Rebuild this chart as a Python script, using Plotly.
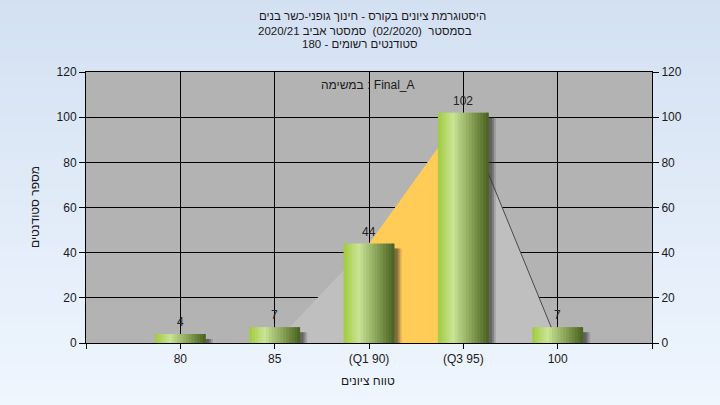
import plotly.graph_objects as go

# ---------------- data ----------------
categories = ["80", "85", "(Q1 90)", "(Q3 95)", "100"]
counts = [4, 7, 44, 102, 7]
curve_values = [0, 0, 44, 102, 0]
q1_pos, q3_pos = 3, 4
y_ticks = [0, 20, 40, 60, 80, 100, 120]

title_lines = [
    "היסטוגרמת ציונים בקורס - חינוך גופני-כשר בנים",
    "בסמסטר  (02/2020)  סמסטר אביב 2020/21",
    "סטודנטים רשומים - 180",
]
task_label = "במשימה : Final_A"
x_title = "טווח ציונים"
y_title = "מספר סטודנטים"

positions = list(range(1, len(categories) + 1))
FONT = "Arial, 'Liberation Sans', 'DejaVu Sans', sans-serif"

fig = go.Figure()

# gray distribution area (primary subplot, drawn first)
fig.add_trace(go.Scatter(x=positions, y=curve_values, mode="lines", fill="tozeroy",
                         fillcolor="#BFBFBF", line=dict(width=0, color="#BFBFBF"),
                         hoverinfo="skip", showlegend=False))
# interquartile (Q1-Q3) orange area
i1, i3 = positions.index(q1_pos), positions.index(q3_pos)
fig.add_trace(go.Scatter(x=positions[i1:i3 + 1], y=curve_values[i1:i3 + 1], mode="lines",
                         fill="tozeroy", fillcolor="#FFCC58", line=dict(width=0, color="#FFCC58"),
                         hoverinfo="skip", showlegend=False))
# dark outline on descending side
fig.add_trace(go.Scatter(x=positions[i3:], y=curve_values[i3:], mode="lines",
                         line=dict(width=1, color="#4A4A4A"), hoverinfo="skip", showlegend=False))

# bar shadows (overlay subplot, drawn above the areas)
BW = 0.54
for dx, alpha in [(0.075, 0.18), (0.055, 0.3), (0.035, 0.35)]:
    fig.add_trace(go.Bar(x=positions, y=counts, base=-2.2, width=BW, offset=-BW / 2 + dx, yaxis="y2",
                         marker=dict(color=f"rgba(50,50,50,{alpha})", line=dict(width=0)),
                         hoverinfo="skip", showlegend=False))

# gradient bars made of strips
stops = [(0.0, (160, 202, 62)), (0.3, (202, 228, 150)), (0.6, (146, 172, 96)), (1.0, (72, 96, 30))]


def grad(t):
    for (t0, c0), (t1, c1) in zip(stops[:-1], stops[1:]):
        if t <= t1:
            f = (t - t0) / (t1 - t0)
            return "rgb(%d,%d,%d)" % tuple(round(a + (b - a) * f) for a, b in zip(c0, c1))
    return "rgb(%d,%d,%d)" % stops[-1][1]


N = 18
s = BW / N
for i in range(N):
    off = -BW / 2 + i * s
    w = min(1.6 * s, BW / 2 - off)
    fig.add_trace(go.Bar(x=positions, y=counts, width=w, offset=off, yaxis="y2",
                         marker=dict(color=grad((i + 0.5) / N), line=dict(width=0)),
                         hoverinfo="skip", showlegend=False))

# background gradient bands + plot area
shapes = []
nb = 45
top_c, bot_c = (211, 224, 242), (239, 246, 254)
y_top, y_bot = 1.28, -0.24
for k in range(nb):
    f = (k + 0.5) / nb
    c = tuple(round(a + (b - a) * f) for a, b in zip(top_c, bot_c))
    ya = y_top - (y_top - y_bot) * k / nb
    yb = y_top - (y_top - y_bot) * (k + 1) / nb
    shapes.append(dict(type="rect", xref="paper", yref="paper", x0=-0.2, x1=1.2, y0=yb - 0.002, y1=ya + 0.002,
                       fillcolor="rgb(%d,%d,%d)" % c, line=dict(width=0), layer="below"))
shapes.append(dict(type="rect", xref="x domain", yref="y domain", x0=0, x1=1, y0=0, y1=1,
                   fillcolor="#B3B3B3", line=dict(width=0), layer="below"))

annotations = []
# value labels above bars
for xv, v in zip(positions, counts):
    annotations.append(dict(text=str(v), x=xv, y=v, xref="x", yref="y2", showarrow=False,
                            xanchor="center", yanchor="middle", yshift=12,
                            font=dict(size=12, color="#222222", family=FONT)))
for txt, xc, yc in zip(title_lines, [0.507, 0.493, 0.484], [1.206, 1.152, 1.104]):
    annotations.append(dict(text=txt, xref="paper", yref="paper", x=xc, y=yc, showarrow=False,
                            xanchor="center", yanchor="middle", font=dict(size=11.5, color="#1A1A1A", family=FONT)))
annotations.append(dict(text=task_label, xref="paper", yref="paper", x=0.498, y=0.952, showarrow=False,
                        xanchor="center", yanchor="middle", font=dict(size=12, color="#1A1A1A", family=FONT)))
annotations.append(dict(text=x_title, xref="paper", yref="paper", x=0.498, y=-0.140, showarrow=False,
                        xanchor="center", yanchor="middle", font=dict(size=12, color="#1A1A1A", family=FONT)))
annotations.append(dict(text=y_title, xref="paper", yref="paper", x=-0.090, y=0.502, showarrow=False,
                        textangle=-90, xanchor="center", yanchor="middle",
                        font=dict(size=12, color="#1A1A1A", family=FONT)))

axis_font = dict(size=12, color="#1A1A1A", family=FONT)
fig.update_layout(
    width=720, height=405, autosize=False,
    margin=dict(l=86, r=68, t=72, b=62),
    paper_bgcolor="#E2ECF8", plot_bgcolor="rgba(0,0,0,0)",
    barmode="overlay", showlegend=False,
    shapes=shapes, annotations=annotations,
    xaxis=dict(range=[0, len(categories) + 1], tickmode="array",
               tickvals=list(range(0, len(categories) + 2)),
               ticktext=[""] + categories + [""],
               ticks="outside", ticklen=5, tickcolor="black", tickfont=axis_font,
               showgrid=True, gridcolor="black", gridwidth=1, zeroline=False,
               showline=True, linecolor="black", linewidth=1, mirror=True),
    yaxis=dict(range=[0, 120], tickvals=y_ticks, ticks="outside", ticklen=6, tickcolor="black",
               tickfont=axis_font, showgrid=True, gridcolor="black", gridwidth=1, zeroline=False,
               showline=True, linecolor="black", linewidth=1),
    yaxis2=dict(range=[0, 120], tickvals=y_ticks, overlaying="y", side="right", ticks="outside",
                ticklen=6, tickcolor="black", tickfont=axis_font, showgrid=False, zeroline=False,
                showline=True, linecolor="black", linewidth=1),
)

fig.write_html("out.html", config={"displayModeBar": False},
               post_script="document.body.style.margin='0';document.body.style.padding='0';")
